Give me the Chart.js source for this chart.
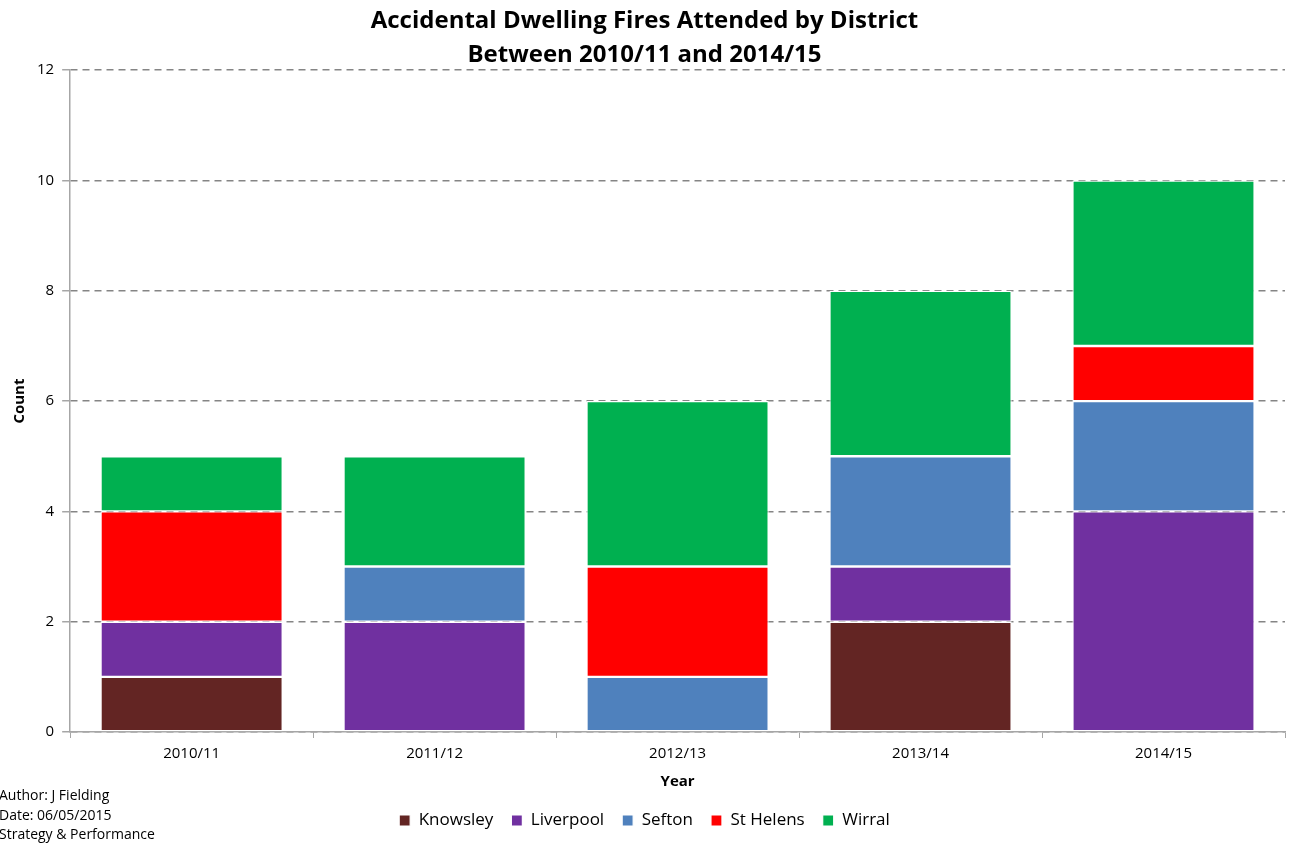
<!DOCTYPE html>
<html>
<head>
<meta charset="utf-8">
<title>Accidental Dwelling Fires Attended by District</title>
<script src="https://cdn.jsdelivr.net/npm/chart.js@4/dist/chart.umd.min.js"></script>
<style>
	body { margin: 0; background: #ffffff; }
	#wrap { width: 1295px; height: 843px; }
</style>
</head>
<body>
<div id="wrap"><canvas id="fireChart" width="1295" height="843"></canvas></div>
<script>
const years = ['2010/11', '2011/12', '2012/13', '2013/14', '2014/15'];
const knowsley = [1, 0, 0, 2, 0];
const liverpool = [1, 2, 0, 1, 4];
const sefton = [0, 1, 1, 2, 2];
const stHelens = [2, 0, 2, 0, 1];
const wirral = [1, 2, 3, 3, 3];
const yTicks = [0, 2, 4, 6, 8, 10, 12];
const footerLines = ['Author: J Fielding', 'Date: 06/05/2015', 'Strategy & Performance'];

const FONT = "'Open Sans', Lato, sans-serif";

function series(label, data, colour) {
	return {
		label: label,
		data: data,
		backgroundColor: colour,
		borderColor: '#ffffff',
		borderWidth: 1.2,
		borderSkipped: false,
		categoryPercentage: 1,
		barPercentage: 0.75,
	};
}

// author / date block in the bottom left corner
const footerPlugin = {
	id: 'footer',
	afterDraw(chart) {
		const ctx = chart.ctx;
		ctx.save();
		ctx.font = '14px ' + FONT;
		ctx.fillStyle = '#000000';
		ctx.textAlign = 'left';
		ctx.textBaseline = 'alphabetic';
		footerLines.forEach((line, i) => {
			ctx.fillText(line, -1, 800 + i * 19.5);
		});
		ctx.restore();
	}
};

new Chart(document.getElementById('fireChart'), {
	type: 'bar',
	data: {
		labels: years,
		datasets: [
			series('Knowsley', knowsley, '#632523'),
			series('Liverpool', liverpool, '#7030A0'),
			series('Sefton', sefton, '#4F81BD'),
			series('St Helens', stHelens, '#FF0000'),
			series('Wirral', wirral, '#00B050'),
		],
	},
	options: {
		responsive: false,
		animation: false,
		layout: {
			padding: { left: 4, right: 10, top: 4, bottom: 4 },
		},
		plugins: {
			title: {
				display: true,
				text: ['Accidental Dwelling Fires Attended by District', 'Between 2010/11 and 2014/15'],
				color: '#000000',
				font: { family: FONT, size: 24, weight: 'bold', lineHeight: 1.42 },
				padding: { top: 0, bottom: -2 },
			},
			legend: {
				position: 'bottom',
				labels: {
					color: '#000000',
					boxWidth: 11,
					boxHeight: 11,
					padding: 18,
					font: { family: FONT, size: 17 },
				},
			},
			tooltip: { enabled: false },
		},
		scales: {
			x: {
				stacked: true,
				offset: true,
				grid: {
					display: true,
					offset: true,
					drawOnChartArea: false,
					drawTicks: true,
					tickLength: 6,
					color: '#a6a6a6',
				},
				border: { display: true, color: '#a6a6a6', width: 1.5 },
				ticks: {
					color: '#000000',
					padding: 7,
					font: { family: FONT, size: 15 },
				},
				title: {
					display: true,
					text: 'Year',
					color: '#000000',
					font: { family: FONT, size: 15, weight: 'bold' },
					padding: { top: 3, bottom: 3 },
				},
			},
			y: {
				stacked: true,
				min: 0,
				max: 12,
				afterBuildTicks(axis) {
					axis.ticks = yTicks.map(v => ({ value: v }));
				},
				grid: {
					color: '#858585',
					lineWidth: 1.5,
					drawTicks: true,
					tickLength: 8,
					tickColor: '#a6a6a6',
				},
				border: { display: true, color: '#a6a6a6', width: 1.5, dash: [7, 5] },
				ticks: {
					color: '#000000',
					padding: 8,
					font: { family: FONT, size: 15 },
				},
				title: {
					display: true,
					text: 'Count',
					color: '#000000',
					font: { family: FONT, size: 15, weight: 'bold' },
					padding: { top: 7, bottom: 0 },
				},
			},
		},
	},
	plugins: [footerPlugin],
});
</script>
</body>
</html>
